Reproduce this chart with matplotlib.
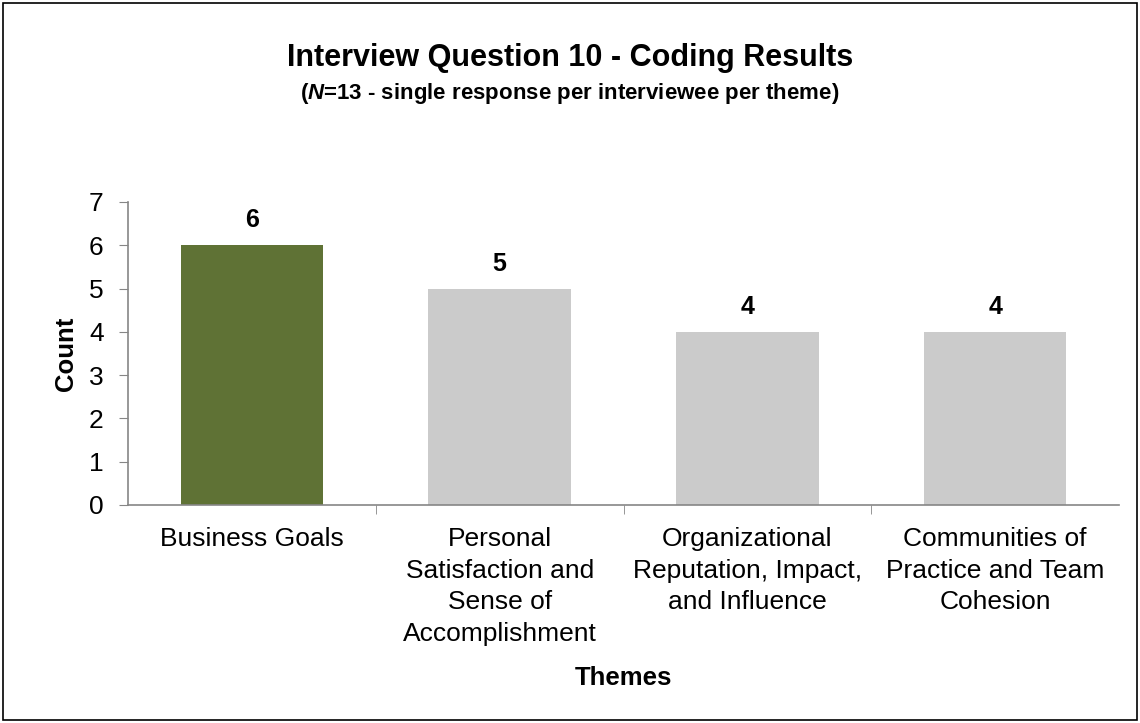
import numpy as np
import matplotlib
matplotlib.use("Agg")
import matplotlib.pyplot as plt
from matplotlib.patches import Rectangle
from matplotlib.ticker import MultipleLocator

plt.rcParams['font.family'] = ['Liberation Sans', 'DejaVu Sans']
plt.rcParams['mathtext.fontset'] = 'custom'
plt.rcParams['mathtext.it'] = 'Liberation Sans:bold:italic'
plt.rcParams['mathtext.rm'] = 'Liberation Sans:bold'

themes = ["Business Goals",
          "Personal\nSatisfaction and\nSense of\nAccomplishment",
          "Organizational\nReputation, Impact,\nand Influence",
          "Communities of\nPractice and Team\nCohesion"]
counts = [6, 5, 4, 4]
colors = ['#5f7235', '#cbcbcb', '#cbcbcb', '#cbcbcb']

fig = plt.figure(figsize=(11.4, 7.23), dpi=100)
ax = fig.add_axes([128/1140, 1-505/723, (1119-128)/1140, (505-202)/723])

x = np.arange(len(counts))
bars = ax.bar(x, counts, width=0.575, color=colors, zorder=2)
for b, v in zip(bars, counts):
    ax.text(b.get_x() + b.get_width()/2, v + 0.3, str(v), ha='center', va='bottom',
            fontsize=18, fontweight='bold')

ax.set_xlim(-0.5, len(counts) - 0.5)
ax.set_ylim(0, 7)
ax.yaxis.set_major_locator(MultipleLocator(1))
ax.set_xticks(x)
ax.set_xticklabels(themes, fontsize=19, va='top', linespacing=1.4)
ax.set_xticks(np.arange(0.5, len(counts) - 0.5, 1), minor=True)
ax.tick_params(axis='x', which='major', length=0, pad=16)
ax.tick_params(axis='x', which='minor', length=6.5, color='#868686', direction='out')
ax.tick_params(axis='y', labelsize=19, length=6.5, color='#868686', direction='out', pad=11)

for s in ['top', 'right']:
    ax.spines[s].set_visible(False)
for s in ['left', 'bottom']:
    ax.spines[s].set_color('#868686')
    ax.spines[s].set_linewidth(1.2)

ax.set_ylabel("Count", fontsize=18.5, fontweight='bold', va='center')
ax.yaxis.set_label_coords(-0.0626, 0.5)
ax.set_xlabel("Themes", fontsize=18.5, fontweight='bold', va='center')
ax.xaxis.set_label_coords(0.5, -0.572)

fig.text(0.5, 1-58/723, "Interview Question 10 - Coding Results", ha='center', va='center',
         fontsize=22, fontweight='bold')
fig.text(0.5, 1-93/723, r"($N$=13 - single response per interviewee per theme)",
         ha='center', va='center', fontsize=16, fontweight='bold')

fig.patches.append(Rectangle((3/1140, 3/723), 1134/1140, 717/723, transform=fig.transFigure,
                             fill=False, edgecolor='black', linewidth=1.2))

fig.savefig("out.png", dpi=100)
